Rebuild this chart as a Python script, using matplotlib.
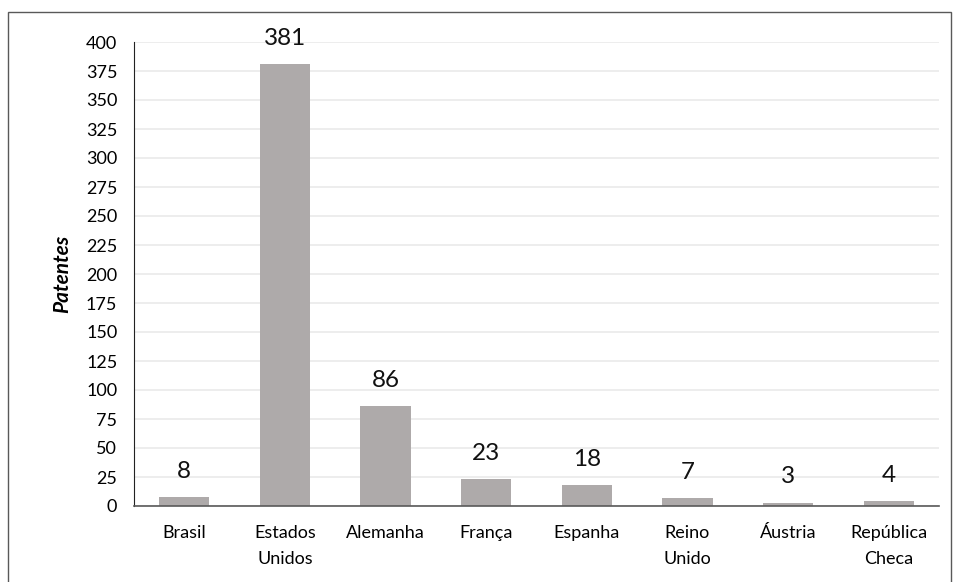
import matplotlib
matplotlib.use("Agg")
import matplotlib.pyplot as plt
from matplotlib.patches import Rectangle

plt.rcParams['font.family'] = ['Lato', 'DejaVu Sans']

paises = ['Brasil', 'Estados\nUnidos', 'Alemanha', 'França', 'Espanha',
          'Reino\nUnido', 'Áustria', 'República\nCheca']
patentes = [8, 381, 86, 23, 18, 7, 3, 4]
yticks = list(range(0, 401, 25))

fig = plt.figure(figsize=(9.54, 5.82), dpi=100)
ax = fig.add_axes([134 / 954, 1 - 506 / 582, 805 / 954, 464 / 582])

# outer frame around the whole chart area
fig.patches.append(Rectangle((8 / 954, -0.05), 943 / 954, 1.05 - 12 / 582,
                             transform=fig.transFigure, fill=False,
                             edgecolor='#595959', linewidth=1.0))

x = range(len(paises))
bars = ax.bar(x, patentes, width=0.5, color='#AEAAAA', zorder=2)
for b, v in zip(bars, patentes):
    ax.text(b.get_x() + b.get_width() / 2, v + 13, str(v),
            ha='center', va='bottom', fontsize=17.5, color='#111111')

ax.set_xlim(-0.5, len(paises) - 0.5)
ax.set_ylim(0, 400)
ax.set_yticks(yticks)
ax.set_xticks(list(x))
ax.set_xticklabels(paises, fontsize=13, linespacing=1.7)
ax.tick_params(axis='y', labelsize=13, length=0, pad=12)
ax.tick_params(axis='x', length=0, pad=14)
ax.yaxis.grid(True, color='#EAEAEA', linewidth=1.2, zorder=0)
ax.set_axisbelow(True)

for s in ['top', 'right']:
    ax.spines[s].set_visible(False)
ax.spines['left'].set_color('#222222')
ax.spines['bottom'].set_color('#595959')
ax.spines['bottom'].set_linewidth(1.2)

ax.set_ylabel('Patentes', fontsize=15, fontweight='bold', fontstyle='italic',
              labelpad=10)

fig.savefig('out.png', dpi=100)
